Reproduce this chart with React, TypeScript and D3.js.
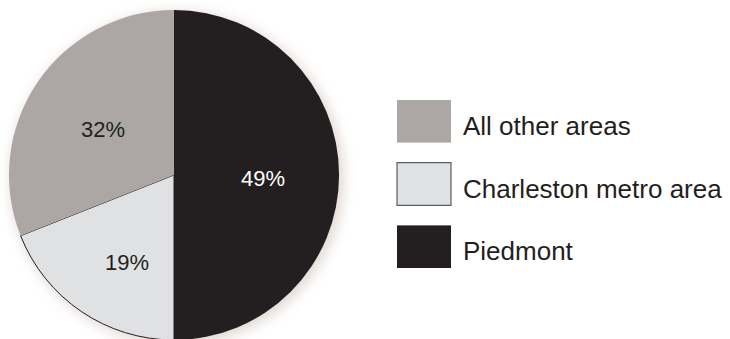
import React from "react";
import * as d3 from "d3";

const categories = ["Piedmont", "Charleston metro area", "All other areas"];
const percentLabels = [49, 19, 32];
// angular shares as drawn in the reference picture
const drawnShares = [50, 19, 31];
const colors = ["#231f20", "#e0e1e3", "#aca7a4"];
const labelColors = ["#ffffff", "#231f20", "#231f20"];
const legendOrder = ["All other areas", "Charleston metro area", "Piedmont"];

const W = 730;
const H = 339;
const cx = 174;
const cy = 175;
const R = 165;

export default function App() {
  const data = categories.map((c, i) => ({
    name: c,
    share: drawnShares[i],
    pct: percentLabels[i],
    color: colors[i],
    labelColor: labelColors[i],
  }));
  const pie = d3.pie<any>().value((d) => d.share).sort(null);
  const arcs = pie(data);
  const arc = d3.arc<any>().innerRadius(0).outerRadius(R);
  const labelPos: Record<string, [number, number]> = {
    Piedmont: [263, 186],
    "Charleston metro area": [127, 270],
    "All other areas": [103, 137],
  };
  const legendY = d3.scaleBand().domain(legendOrder).range([100, 268]).paddingInner(0.32);
  const colorOf = d3.scaleOrdinal<string, string>().domain(categories).range(colors);

  return (
    <svg width={W} height={H} style={{ position: "absolute", left: 0, top: 0, background: "#fff" }}
      fontFamily="'Liberation Sans', Arial, sans-serif">
      <defs>
        <filter id="sh" x="-20%" y="-20%" width="140%" height="140%">
          <feGaussianBlur stdDeviation="6" />
        </filter>
      </defs>
      <circle cx={cx + 3} cy={cy + 3} r={R + 2} fill="#c9bcb2" opacity={0.55} filter="url(#sh)" />
      <g transform={`translate(${cx},${cy})`}>
        {arcs.map((a, i) => (
          <path key={i} d={arc(a) as string} fill={a.data.color}
            stroke={a.data.name === "Charleston metro area" ? "#231f20" : "none"} strokeWidth={1} />
        ))}
      </g>
      {arcs.map((a, i) => {
        const [x, y] = labelPos[a.data.name];
        return (
          <text key={"l" + i} x={x} y={y} textAnchor="middle" fontSize={22} fill={a.data.labelColor}>
            {a.data.pct}%
          </text>
        );
      })}
      {legendOrder.map((name) => {
        const y = legendY(name) as number;
        const h = legendY.bandwidth();
        return (
          <g key={name}>
            <rect x={397} y={y} width={54} height={h} fill={colorOf(name)}
              stroke={name === "Charleston metro area" ? "#3a3a3a" : "none"} strokeWidth={1} />
            <text x={463} y={y + h / 2 + 13.5} fontSize={26} fill="#231f20">{name}</text>
          </g>
        );
      })}
    </svg>
  );
}
